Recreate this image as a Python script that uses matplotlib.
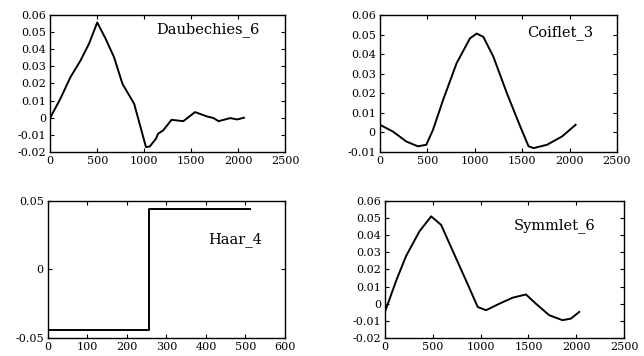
import matplotlib.pyplot as plt

plt.rcParams['font.family'] = ['DejaVu Serif']

# Daubechies_6
db_x = [0, 107, 214, 321, 411, 500, 590, 679, 768, 893, 1018, 1058, 1125,
        1147, 1201, 1290, 1415, 1540, 1665, 1737, 1790, 1915, 1987, 2060]
db_y = [0.0, 0.011, 0.0236, 0.0333, 0.043, 0.0556, 0.046, 0.0353, 0.0198,
        0.0081, -0.0171, -0.0168, -0.0122, -0.0093, -0.0074, -0.0012, -0.002,
        0.0033, 0.0008, -0.0002, -0.002, -0.0002, -0.001, 0.0]

# Coiflet_3
cf_x = [0, 135, 277, 400, 489, 560, 666, 808, 949, 1020, 1091, 1197, 1339,
        1480, 1568, 1621, 1763, 1922, 2064]
cf_y = [0.0039, 0.0005, -0.0046, -0.0071, -0.0063, 0.0014, 0.0166, 0.0353,
        0.048, 0.0505, 0.0488, 0.0386, 0.020, 0.003, -0.0071, -0.008, -0.0063,
        -0.002, 0.0039]

# Haar_4
haar_x = [0, 256, 256, 512]
haar_y = [-0.0445, -0.0445, 0.0442, 0.0442]

# Symmlet_6
sy_x = [0, 116, 220, 360, 482, 586, 708, 847, 969, 1056, 1195, 1334, 1474,
        1578, 1717, 1856, 1944, 2031]
sy_y = [-0.0045, 0.0135, 0.0279, 0.0423, 0.051, 0.046, 0.0308, 0.0135,
        -0.0019, -0.0038, 0.0, 0.0035, 0.0054, 0.0, -0.0067, -0.0096, -0.0087,
        -0.0048]

fig = plt.figure(figsize=(6.44, 3.56), dpi=100)


def style(ax):
    ax.tick_params(direction='in', top=True, right=True, labelsize=8,
                   length=3, width=0.8, pad=3)
    for s in ax.spines.values():
        s.set_linewidth(1.0)


# 左上
ax1 = fig.add_axes([0.078, 0.573, 0.365, 0.385])
ax1.plot(db_x, db_y, color='black', lw=1.4)
ax1.set_xlim(0, 2500)
ax1.set_ylim(-0.02, 0.06)
ax1.set_xticks([0, 500, 1000, 1500, 2000, 2500])
ax1.set_yticks([-0.02, -0.01, 0, 0.01, 0.02, 0.03, 0.04, 0.05, 0.06])
ax1.set_yticklabels(['-0.02', '-0.01', '0', '0.01', '0.02', '0.03', '0.04',
                     '0.05', '0.06'])
ax1.text(0.67, 0.89, 'Daubechies_6', transform=ax1.transAxes,
         ha='center', va='center', fontsize=10.5)
style(ax1)

# 右上
ax2 = fig.add_axes([0.590, 0.573, 0.368, 0.385])
ax2.plot(cf_x, cf_y, color='black', lw=1.4)
ax2.set_xlim(0, 2500)
ax2.set_ylim(-0.01, 0.06)
ax2.set_xticks([0, 500, 1000, 1500, 2000, 2500])
ax2.set_yticks([-0.01, 0, 0.01, 0.02, 0.03, 0.04, 0.05, 0.06])
ax2.set_yticklabels(['-0.01', '0', '0.01', '0.02', '0.03', '0.04', '0.05',
                     '0.06'])
ax2.text(0.76, 0.87, 'Coiflet_3', transform=ax2.transAxes,
         ha='center', va='center', fontsize=10.5)
style(ax2)

# 左下
ax3 = fig.add_axes([0.0745, 0.0506, 0.368, 0.385])
ax3.plot(haar_x, haar_y, color='black', lw=1.4)
ax3.set_xlim(0, 600)
ax3.set_ylim(-0.05, 0.05)
ax3.set_xticks([0, 100, 200, 300, 400, 500, 600])
ax3.set_yticks([-0.05, 0, 0.05])
ax3.set_yticklabels(['-0.05', '0', '0.05'])
ax3.text(0.79, 0.715, 'Haar_4', transform=ax3.transAxes,
         ha='center', va='center', fontsize=10.5)
style(ax3)

# 右下
ax4 = fig.add_axes([0.598, 0.0506, 0.371, 0.385])
ax4.plot(sy_x, sy_y, color='black', lw=1.4)
ax4.set_xlim(0, 2500)
ax4.set_ylim(-0.02, 0.06)
ax4.set_xticks([0, 500, 1000, 1500, 2000, 2500])
ax4.set_yticks([-0.02, -0.01, 0, 0.01, 0.02, 0.03, 0.04, 0.05, 0.06])
ax4.set_yticklabels(['-0.02', '-0.01', '0', '0.01', '0.02', '0.03', '0.04',
                     '0.05', '0.06'])
ax4.text(0.71, 0.82, 'Symmlet_6', transform=ax4.transAxes,
         ha='center', va='center', fontsize=10.5)
style(ax4)

fig.savefig('out.png', dpi=100)
